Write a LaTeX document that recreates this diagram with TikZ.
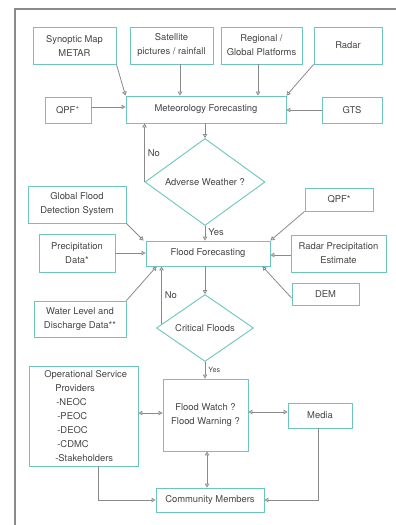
\documentclass[tikz,border=0pt]{standalone}
\usepackage{fontspec}
\setmainfont{TeX Gyre Heros}
\usetikzlibrary{shapes.geometric,arrows.meta}
\definecolor{boxteal}{HTML}{6CC5BE}
\definecolor{linegray}{HTML}{8A8A8A}
\definecolor{textgray}{HTML}{454545}
\providecommand{\boxfontsize}{\fontsize{9.4pt}{14pt}\selectfont}
\providecommand{\smallfontsize}{\fontsize{7.2pt}{9pt}\selectfont}

\begin{document}
\begin{tikzpicture}[x=1pt,y=-1pt,
    box/.style={draw=boxteal,line width=0.9pt,fill=white,text=textgray,align=center,inner sep=0pt,font=\boxfontsize},
    decision/.style={box,diamond},
    link/.style={draw=linegray,line width=0.8pt,-{Triangle[open,length=4pt,width=4.5pt]}},
    both/.style={link,{Triangle[open,length=4pt,width=4.5pt]}-{Triangle[open,length=4pt,width=4.5pt]}},
    lbl/.style={text=textgray,font=\boxfontsize,inner sep=1pt}]
    \useasboundingbox (0,0) rectangle (396,525);
    \pgfmathsetmacro{\toph}{37}  % height of the top row of sources
    % page frame
    \draw[linegray,line width=1.2pt] (15,525) -- (15,9) -- (396,9);
    % meteorology inputs
    \node[box,minimum width=83,minimum height=\toph] (synop) at (74.5,45.5) {Synoptic Map\\METAR};
    \node[box,minimum width=83,minimum height=\toph] (sat) at (171.5,45.5) {Satellite\\pictures / rainfall};
    \node[box,minimum width=81,minimum height=\toph] (regional) at (261.5,45.5) {Regional /\\Global Platforms};
    \node[box,minimum width=68,minimum height=\toph] (radar) at (348,45.5) {Radar};
    \node[box,minimum width=46,minimum height=26] (qpfplus) at (68,110) {QPF\textsuperscript{+}};
    \node[box,minimum width=160,minimum height=27] (meteo) at (206,109.5) {Meteorology Forecasting};
    \node[box,minimum width=60,minimum height=26] (gts) at (352,110) {GTS};
    \node[decision,minimum width=120,minimum height=70] (adverse) at (205,182) {Adverse Weather ?};
    % flood inputs
    \node[box,minimum width=98,minimum height=37] (gfds) at (77,204.5) {Global Flood\\Detection System};
    \node[box,minimum width=68,minimum height=23] (qpfstar) at (339,199.5) {QPF*};
    \node[box,minimum width=76,minimum height=38] (precip) at (77,253) {Precipitation\\Data*};
    \node[box,minimum width=124,minimum height=25] (flood) at (208,253.5) {Flood Forecasting};
    \node[box,minimum width=95,minimum height=37] (radarest) at (338.5,253.5) {Radar Precipitation\\Estimate};
    \node[box,minimum width=67,minimum height=22] (dem) at (325.5,294) {DEM};
    \node[box,minimum width=92,minimum height=36] (water) at (80,319) {Water Level and\\Discharge Data**};
    \node[decision,minimum width=97,minimum height=67] (critical) at (205,328) {Critical Floods};
    % warning and dissemination
    \node[box,minimum width=109,minimum height=100,align=left] (osp) at (83.5,416) {%
        \hspace*{4.5pt}Operational Service\\
        \hspace*{15.5pt}Providers\\
        \hspace*{16.5pt}-NEOC\\
        \hspace*{17.5pt}-PEOC\\
        \hspace*{17.5pt}-DEOC\\
        \hspace*{17.5pt}-CDMC\\
        \hspace*{15.5pt}-Stakeholders};
    \node[box,minimum width=85,minimum height=72] (watch) at (205.5,415) {Flood Watch ?\\Flood Warning ?};
    \node[box,minimum width=64,minimum height=25] (media) at (320,415.5) {Media};
    \node[box,minimum width=108,minimum height=24] (community) at (210,500) {Community Members};
    % connectors to meteorology forecasting
    \draw[link] (synop.south east) -- (meteo.north west);
    \draw[link] ([xshift=8.5]sat.south) -- ([xshift=8.5]sat.south |- meteo.north);
    \draw[link] ([xshift=-3.5]regional.south) -- ([xshift=-3.5]regional.south |- meteo.north);
    \draw[link] (radar.south west) -- (meteo.north east);
    \draw[link] ([yshift=3]qpfplus.east) -- ([yshift=3]qpfplus.east -| meteo.west);
    \draw[link] (gts.west) -- (gts.west -| meteo.east);
    \draw[link] (adverse.north |- meteo.south) -- (adverse.north);
    \draw[link] (adverse.west) -- node[lbl,right=2pt] {No} (adverse.west |- meteo.south);
    \draw[link] (adverse.south) -- node[lbl,right=2pt,pos=0.45] {Yes} (adverse.south |- flood.north);
    % connectors to flood forecasting
    \draw[link] (gfds.south east) -- ([xshift=-2]flood.north west);
    \draw[link] (precip.east) -- (precip.east -| flood.west);
    \draw[link] (qpfstar.south west) -- (flood.north east);
    \draw[link] ([yshift=-1.5]radarest.west) -- ([yshift=-1.5]radarest.west -| flood.east);
    \draw[link] ([yshift=-4]dem.west) -- ([xshift=-8]flood.south east);
    \draw[link] (water.north east) -- ([xshift=11]flood.south west);
    \draw[link] (critical.north |- flood.south) -- (critical.north);
    \draw[link] (critical.175) -- node[lbl,right=2pt] {No} (critical.175 |- flood.south);
    \draw[link] (critical.south) -- node[lbl,right=2pt,font=\smallfontsize] {Yes} (critical.south |- watch.north);
    % dissemination
    \draw[both] ([yshift=3]osp.east) -- ([yshift=3]osp.east -| watch.west);
    \draw[both] ([yshift=3]watch.east) -- ([yshift=3]watch.east -| media.west);
    \draw[both] ([xshift=1.5]watch.south) -- ([xshift=1.5]watch.south |- community.north);
    \draw[link] ([xshift=14.5]osp.south) |- (community.west);
    \draw[link] ([xshift=-2]media.south) |- (community.east);
\end{tikzpicture}
\end{document}
